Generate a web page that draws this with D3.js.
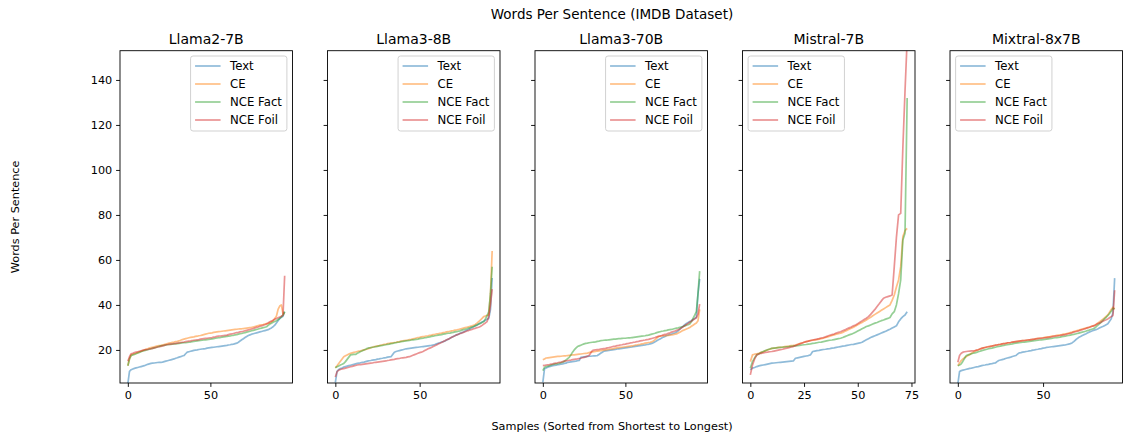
<!DOCTYPE html>
<html>
<head>
<meta charset="utf-8">
<script src="https://cdn.jsdelivr.net/npm/d3@7"></script>
<style>
body { margin: 0; background: #fff; }
text { font-family: "DejaVu Sans", sans-serif; fill: #000; }
</style>
</head>
<body>
<div id="chart"></div>
<script>
var models = ['Llama2-7B', 'Llama3-8B', 'Llama3-70B', 'Mistral-7B', 'Mixtral-8x7B'];
var seriesNames = ['Text', 'CE', 'NCE Fact', 'NCE Foil'];
var colors = ['#1f77b4', '#ff7f0e', '#2ca02c', '#d62728'];
var yTicks = [20, 40, 60, 80, 100, 120, 140];
var xTicksShort = [0, 50];
var xTicksMistral = [0, 25, 50, 75];
var legendOnLeft = [false, false, false, true, true];

// Llama2-7B (96 samples)
var llama2Text = [5,10.5,11.2,11.5,11.8,12,12.2,12.4,12.6,12.8,
	13,13.3,13.6,13.8,14,14.1,14.2,14.3,14.4,14.5,
	14.5,14.6,14.8,15,15.2,15.4,15.6,15.8,16,16.3,
	16.5,16.8,17,17.3,17.5,18.3,19,19.2,19.4,19.6,
	19.8,19.9,20,20.2,20.3,20.4,20.5,20.6,20.8,20.9,
	21,21.1,21.2,21.3,21.4,21.5,21.6,21.7,21.8,21.9,
	22,22.2,22.3,22.5,22.6,22.8,23,23.4,24,24.5,
	25,25.5,26,26.4,26.7,27,27.2,27.4,27.6,27.8,
	28,28.2,28.4,28.6,28.8,29,29.4,29.8,30.3,31,
	32,33,34,34.5,35,37];
var llama2CE = [13,16,17.8,18,18.3,18.5,18.8,19.1,19.4,19.7,
	20,20.3,20.5,20.8,21,21.2,21.4,21.6,21.8,21.9,
	22,22.2,22.4,22.6,22.8,23,23.2,23.4,23.5,23.7,
	23.8,24,24.3,24.6,24.8,25,25.2,25.4,25.6,25.7,
	25.8,26,26.1,26.3,26.4,26.6,26.8,27,27.2,27.4,
	27.5,27.6,27.8,27.9,28,28.1,28.2,28.3,28.4,28.5,
	28.6,28.7,28.8,28.9,29,29.1,29.2,29.3,29.4,29.4,
	29.5,29.6,29.7,29.8,29.9,30,30.2,30.4,30.6,30.8,
	31,31.2,31.3,31.5,31.7,31.8,32,32.5,33,34,
	35,38,39.5,40,36,36.5];
var llama2Fact = [13,16,17.5,17.8,18,18.3,18.6,18.9,19.2,19.5,
	19.7,19.9,20.1,20.3,20.5,20.7,20.9,21.1,21.3,21.6,
	21.8,21.9,22,22.2,22.3,22.4,22.5,22.6,22.7,22.7,
	22.8,22.9,23,23.1,23.2,23.2,23.3,23.4,23.5,23.7,
	23.8,23.9,24,24.1,24.2,24.3,24.4,24.5,24.6,24.7,
	24.8,24.9,25,25.2,25.3,25.4,25.5,25.7,25.8,25.9,
	26,26.1,26.2,26.4,26.5,26.7,26.8,27,27.2,27.3,
	27.5,27.7,27.9,28.1,28.3,28.5,28.7,28.9,29.1,29.3,
	29.5,29.7,29.9,30.1,30.3,30.9,31.5,31.9,32.3,32.6,
	33,33.5,34,34.7,35.5,37];
var llama2Foil = [15,17,18.3,18.5,18.8,19,19.2,19.4,19.6,19.8,
	20,20.1,20.2,20.4,20.5,20.7,20.9,21.1,21.3,21.4,
	21.6,21.8,22,22.2,22.4,22.5,22.6,22.7,22.8,22.9,
	23,23.1,23.3,23.4,23.5,23.7,23.8,23.9,24,24.2,
	24.3,24.4,24.5,24.6,24.8,24.9,25,25.1,25.2,25.3,
	25.4,25.5,25.7,25.8,26,26.1,26.2,26.3,26.4,26.5,
	26.6,26.8,27,27.1,27.3,27.5,27.7,27.8,28,28.1,
	28.3,28.5,28.7,28.9,29.1,29.3,29.5,29.8,30,30.2,
	30.5,30.7,31,31.2,31.5,32,32.5,32.8,33.2,33.6,
	34,34.3,34.6,35,35.5,53];

// Llama3-8B (94 samples)
var llama3Text = [5.5,10.5,11.3,11.7,12,12.4,12.6,12.8,13,13.2,
	13.4,13.6,13.8,14,14.1,14.3,14.5,14.6,14.8,15,
	15.2,15.3,15.5,15.6,15.7,15.9,16,16.2,16.3,16.5,
	16.6,16.8,16.9,17,18,19,19.3,19.5,19.7,19.9,
	20.1,20.3,20.5,20.6,20.7,20.8,20.9,21,21.1,21.2,
	21.3,21.4,21.5,21.6,21.7,21.8,21.9,22,22.2,22.4,
	22.7,23,23.2,23.5,23.7,24,24.4,24.8,25.2,25.6,
	26,26.4,26.7,27,27.4,27.7,28,28.4,28.8,29.1,
	29.5,29.9,30.3,30.7,31.1,31.5,32,32.4,32.8,33.2,
	33.6,34,38,52];
var llama3CE = [12.1,13,14,15,16,17,17.4,17.8,18.2,18.5,
	18.7,18.9,19.1,19.3,19.5,19.6,19.8,20,20.2,20.4,
	20.7,21,21.2,21.5,21.6,21.8,21.9,22.1,22.3,22.5,
	22.6,22.8,22.9,23,23.1,23.3,23.4,23.6,23.7,23.9,
	24,24.2,24.3,24.4,24.6,24.7,24.9,25.1,25.3,25.5,
	25.6,25.8,25.9,26,26.2,26.3,26.5,26.6,26.8,26.9,
	27.1,27.2,27.4,27.5,27.7,27.8,28,28.1,28.3,28.5,
	28.6,28.8,28.9,29.1,29.3,29.5,29.7,29.9,30.1,30.3,
	30.5,30.7,31,31.3,31.9,32.6,33.3,34,34.8,35.1,
	35.4,35.6,45,64];
var llama3Fact = [12.1,12.5,12.9,13.3,13.6,14,14.8,15.8,16.8,17.8,
	17.9,18,18,18.5,18.9,19.3,19.6,20,20.3,20.7,
	20.9,21,21.2,21.3,21.5,21.6,21.8,21.9,22,22.2,
	22.3,22.5,22.6,22.8,22.9,23.1,23.2,23.4,23.5,23.7,
	23.8,23.9,24,24.1,24.2,24.4,24.5,24.6,24.7,24.8,
	25,25.1,25.2,25.4,25.5,25.7,25.8,26,26.1,26.3,
	26.4,26.6,26.7,26.8,27,27.1,27.3,27.4,27.5,27.7,
	27.8,28,28.1,28.3,28.5,28.8,29,29.2,29.4,29.7,
	29.9,30.2,30.4,30.8,31.1,31.5,31.8,32.2,32.6,33.8,
	35.2,37,45,57];
var llama3Foil = [8,10.3,11,11.3,11.5,11.7,11.9,12.1,12.3,12.5,
	12.7,12.9,13.1,13.3,13.4,13.5,13.6,13.7,13.8,13.9,
	14,14.1,14.2,14.4,14.5,14.6,14.7,14.8,14.9,15,
	15.1,15.3,15.4,15.6,15.7,15.8,16,16.1,16.2,16.4,
	16.5,16.6,16.7,16.9,17,17.3,17.6,17.9,18.2,18.5,
	18.8,19,19.3,19.7,20.1,20.5,20.8,21.1,21.5,21.9,
	22.2,22.6,23,23.3,23.7,24.1,24.5,24.8,25.2,25.6,
	26,26.3,26.7,27,27.3,27.5,27.8,28.1,28.4,28.6,
	28.9,29.1,29.4,29.6,29.9,30.1,30.4,30.9,31.5,32,
	32.6,35,40,47];

// Llama3-70B (96 samples)
var llama70Text = [5.6,11.6,12,12.3,12.6,12.8,13,13.1,13.2,13.4,
	13.5,13.7,13.8,14,14.1,14.5,14.6,14.7,14.8,14.9,
	15,15.2,15.3,16.7,16.8,16.9,17,17.1,17.2,17.2,
	17.3,17.4,17.4,17.5,18,18.5,19,19.4,19.6,19.7,
	19.8,19.9,20,20.1,20.2,20.4,20.5,20.6,20.7,20.8,
	20.9,21,21.1,21.2,21.3,21.5,21.6,21.7,21.8,21.9,
	22,22.1,22.2,22.4,22.5,22.7,22.9,23.2,23.6,24.1,
	24.5,24.9,25.3,25.7,26,26.4,26.6,26.9,27.1,27.4,
	27.6,27.9,28.5,29.2,29.9,30.6,31.2,31.8,32.2,32.6,
	33,33.5,34,34.5,45,51.6];
var llama70CE = [15.6,16,16.4,16.5,16.6,16.7,16.8,16.9,17,17.1,
	17.1,17.2,17.3,17.4,17.4,17.5,17.6,17.7,17.8,17.8,
	17.9,18,18.1,18.2,18.3,18.4,18.5,18.6,18.8,19,
	19.1,19.2,19.3,19.5,19.6,19.7,19.8,19.9,20,20.1,
	20.2,20.4,20.5,20.6,20.8,20.9,21,21.1,21.2,21.3,
	21.4,21.5,21.6,21.7,21.8,21.9,22.1,22.2,22.4,22.5,
	22.7,22.8,23,23.1,23.3,23.4,23.6,24,24.6,25.2,
	25.9,26.1,26.2,26.3,26.4,26.4,26.5,26.6,26.7,26.8,
	27,27.1,27.5,27.9,28.3,28.7,29,29.3,29.6,30,
	30.5,31,31.5,32,33,38];
var llama70Fact = [10.8,12.3,12.6,12.8,13,13.3,13.5,13.7,13.8,13.9,
	14.1,14.3,14.5,15,15.5,16.1,16.7,17.8,19,20,
	20.8,21.5,21.8,22.1,22.4,22.7,22.9,23,23.2,23.3,
	23.4,23.5,23.6,23.8,23.9,24.1,24.2,24.3,24.4,24.4,
	24.5,24.6,24.7,24.8,24.8,24.9,25,25,25.1,25.2,
	25.2,25.3,25.4,25.4,25.5,25.6,25.7,25.8,25.9,26,
	26.1,26.2,26.3,26.5,26.6,26.8,27,27.2,27.4,27.7,
	27.9,28.1,28.3,28.4,28.6,28.7,28.9,29,29.1,29.3,
	29.5,29.7,29.8,30,30.2,30.4,30.7,31,31.2,31.5,
	32.5,34,35.5,37,45,55];
var llama70Foil = [13,13.1,13.3,13.4,13.5,13.7,13.8,14,14.1,14.3,
	14.5,14.6,14.8,15,15.1,15.3,15.4,15.5,15.7,15.8,
	15.9,16,16.2,16.3,16.5,16.7,16.9,17.2,17.5,18.6,
	19.7,19.9,20,20.1,20.2,20.4,20.5,20.6,20.7,20.9,
	21,21.2,21.4,21.6,21.7,21.9,22,22.2,22.3,22.5,
	22.6,22.8,22.9,23.1,23.2,23.4,23.5,23.7,23.8,24,
	24.1,24.3,24.4,24.6,24.7,24.9,25.1,25.3,25.5,25.8,
	26,26.2,26.4,26.7,26.9,27.1,27.4,27.6,27.9,28.2,
	28.4,28.7,29,29.3,29.8,30.3,30.8,31.3,31.8,32.3,
	32.8,33.3,33.8,34.3,36,40.4];

// Mistral-7B (74 samples)
var mistralText = [11.1,11.9,12.2,12.6,12.9,13.1,13.3,13.5,13.7,13.9,
	14.1,14.2,14.3,14.4,14.5,14.6,14.7,14.8,14.9,15,
	15.1,16.3,16.5,16.7,16.9,17.1,17.3,17.5,17.8,19.3,
	19.5,19.7,19.8,20,20.2,20.3,20.5,20.6,20.8,20.9,
	21.1,21.3,21.5,21.7,21.8,22,22.2,22.4,22.5,22.7,
	22.9,23.1,23.4,24,24.5,25,25.5,25.9,26.3,26.7,
	27.1,27.5,27.9,28.3,28.8,29.2,29.7,30.2,30.7,32.5,
	33.8,34.8,35.5,37];
var mistralCE = [14.8,17.8,18.1,18.3,18.5,18.9,19.2,19.6,20,20.3,
	20.7,20.8,20.9,21.1,21.2,21.3,21.5,21.6,21.7,21.9,
	22,22.2,22.5,22.8,23.1,23.4,23.7,23.9,24.1,24.3,
	24.5,24.6,24.8,25,25.2,25.5,25.8,26.1,26.4,26.7,
	27,27.2,27.4,27.8,28.3,28.7,29.2,29.6,30.1,30.6,
	31.2,31.7,32.2,32.8,33.3,33.9,34.5,35.2,35.8,36.4,
	37,37.6,38.2,38.8,39.4,40,42,44.4,48,51.1,
	57,70.4,73,74];
var mistralFact = [11.9,14.8,16.5,17.8,18.3,18.8,19.3,19.7,20.1,20.4,
	20.7,20.8,20.9,21,21.1,21.2,21.3,21.4,21.5,21.6,
	21.7,21.8,21.9,22,22.2,22.3,22.4,22.6,22.7,22.9,
	23,23.2,23.4,23.5,23.7,23.9,24.1,24.3,24.4,24.6,
	24.8,25,25.2,25.5,25.9,26.3,26.7,27,27.4,27.9,
	28.4,28.9,29.4,29.9,30.4,30.7,31.1,31.5,31.9,32.2,
	32.6,33,33.3,33.7,34,34.4,36,37,40,45,
	51.1,68.9,71.9,132];
var mistralFoil = [8.9,13.3,16,17.8,18.2,18.5,18.7,18.9,19,19.2,
	19.3,19.5,19.7,19.9,20.1,20.3,20.6,20.8,21,21.3,
	21.5,21.9,22.3,22.7,23,23.4,23.7,23.9,24.2,24.4,
	24.6,24.8,25,25.3,25.5,25.8,26.2,26.5,26.8,27.1,
	27.5,27.8,28.1,28.5,28.9,29.4,29.8,30.2,30.7,31.1,
	31.7,32.3,32.9,33.5,34.1,34.8,35.8,36.9,38,39.3,
	40.5,41.8,43,43.4,43.7,44,44.4,57,70,80,
	80.7,110,135,158];

// Mixtral-8x7B (93 samples)
var mixtralText = [4.9,10.4,10.8,11,11.2,11.4,11.6,11.8,11.9,12.1,
	12.3,12.5,12.6,12.8,13,13.2,13.3,13.5,13.6,13.8,
	13.9,14.1,14.2,14.8,15.3,15.5,15.7,15.9,16.2,16.4,
	16.6,16.8,17.1,17.3,17.5,18.1,18.7,18.8,19,19.1,
	19.3,19.4,19.6,19.7,19.9,20,20.2,20.3,20.5,20.6,
	20.8,20.9,21.1,21.2,21.3,21.4,21.5,21.6,21.7,21.8,
	21.9,22,22.1,22.2,22.4,22.6,22.8,23.1,23.7,24.4,
	25,25.6,26,26.4,26.8,27.1,27.5,27.9,28.2,28.5,
	28.8,29,29.3,29.7,30.1,30.4,30.8,31.2,31.6,32.7,
	33.8,36.7,51.9];
var mixtralCE = [13,14.2,15.3,16,16.6,17.1,17.5,18,18.5,19,
	19.5,19.8,20.1,20.4,20.7,20.9,21.1,21.3,21.5,21.6,
	21.8,21.9,22.1,22.2,22.4,22.5,22.7,22.8,22.9,23.1,
	23.2,23.3,23.5,23.6,23.7,23.8,23.9,24,24.1,24.2,
	24.3,24.4,24.5,24.6,24.7,24.8,25,25.1,25.2,25.3,
	25.4,25.6,25.7,25.8,25.9,26.1,26.2,26.3,26.5,26.6,
	26.7,26.8,27,27.1,27.3,27.5,27.7,27.9,28.2,28.4,
	28.6,28.8,29.1,29.3,29.5,29.7,29.9,30.1,30.4,30.6,
	30.8,31.3,31.9,32.4,33,33.6,34.2,34.9,35.6,36.8,
	38,39,38.2];
var mixtralFact = [13,13.3,13.8,15,16.3,17.5,17.8,18,18.3,18.5,
	18.7,18.9,19.2,19.4,19.7,19.9,20.1,20.3,20.5,20.7,
	20.8,21,21.2,21.4,21.6,21.7,21.9,22,22.2,22.3,
	22.4,22.6,22.7,22.9,23,23.1,23.2,23.3,23.4,23.5,
	23.6,23.7,23.8,23.9,24,24.1,24.2,24.3,24.4,24.5,
	24.6,24.7,24.8,24.9,25,25.1,25.3,25.4,25.5,25.6,
	25.7,25.9,26,26.1,26.3,26.4,26.6,26.8,26.9,27.1,
	27.3,27.5,27.7,27.9,28.1,28.3,28.6,28.8,29.1,29.3,
	29.6,30.2,30.9,31.6,32.3,33,33.8,34.5,35.3,36.2,
	37.2,38.5,38.2];
var mixtralFoil = [14.5,17.5,18.5,19,19.2,19.3,19.4,19.5,19.6,19.6,
	19.7,19.9,20.1,20.4,20.7,20.9,21.1,21.3,21.4,21.6,
	21.7,21.9,22.1,22.2,22.4,22.5,22.7,22.8,22.9,23.1,
	23.2,23.3,23.5,23.6,23.7,23.8,23.9,24,24.1,24.2,
	24.3,24.4,24.5,24.6,24.7,24.8,24.9,25,25.1,25.2,
	25.3,25.4,25.5,25.6,25.7,25.8,26,26.1,26.2,26.3,
	26.4,26.6,26.7,26.8,27,27.2,27.4,27.6,27.9,28.1,
	28.3,28.5,28.8,29,29.3,29.5,29.8,30,30.3,30.6,
	30.8,31.2,31.6,31.9,32.3,32.7,33.1,33.4,33.8,34.3,
	34.8,35.3,46.5];

var panelData = [
	[llama2Text, llama2CE, llama2Fact, llama2Foil],
	[llama3Text, llama3CE, llama3Fact, llama3Foil],
	[llama70Text, llama70CE, llama70Fact, llama70Foil],
	[mistralText, mistralCE, mistralFact, mistralFoil],
	[mixtralText, mixtralCE, mixtralFact, mixtralFoil]
];

var W = 1125, H = 437;
var plotTop = 50.7, plotBottom = 383;
var panelW = 172.5;
var panelLefts = [120, 327.5, 535, 742.5, 950];
var tickLen = 3.9, tickPad = 3.9;

var svg = d3.select('#chart').append('svg')
	.attr('width', W)
	.attr('height', H);

var y = d3.scaleLinear().domain([5.3, 153]).range([plotBottom, plotTop]);

svg.append('text')
	.attr('x', 612).attr('y', 19)
	.attr('text-anchor', 'middle')
	.style('font-size', '13.5px')
	.text('Words Per Sentence (IMDB Dataset)');

svg.append('text')
	.attr('transform', 'translate(19,' + ((plotTop + plotBottom) / 2) + ') rotate(-90)')
	.attr('text-anchor', 'middle')
	.style('font-size', '11.25px')
	.text('Words Per Sentence');

svg.append('text')
	.attr('x', 612).attr('y', 430)
	.attr('text-anchor', 'middle')
	.style('font-size', '11.25px')
	.text('Samples (Sorted from Shortest to Longest)');

panelData.forEach(function(series, p) {
	var left = panelLefts[p];
	var n = series[0].length;
	var x = d3.scaleLinear()
		.domain([-0.05 * (n - 1), 1.05 * (n - 1)])
		.range([left, left + panelW]);

	var g = svg.append('g').attr('class', 'panel' + p);

	svg.append('clipPath').attr('id', 'clip' + p)
		.append('rect')
		.attr('x', left).attr('y', plotTop)
		.attr('width', panelW).attr('height', plotBottom - plotTop);

	var line = d3.line()
		.x(function(d, i) { return x(i); })
		.y(function(d) { return y(d); });

	g.append('g').attr('clip-path', 'url(#clip' + p + ')')
		.selectAll('path')
		.data(series)
		.enter()
		.append('path')
		.attr('d', line)
		.attr('fill', 'none')
		.attr('stroke', function(d, i) { return colors[i]; })
		.attr('stroke-opacity', 0.5)
		.attr('stroke-width', 1.7)
		.attr('stroke-linejoin', 'round');

	// axes
	var xAxis = d3.axisBottom(x)
		.tickValues(p == 3 ? xTicksMistral : xTicksShort)
		.tickFormat(d3.format('d'))
		.tickSize(tickLen).tickPadding(tickPad);
	var xg = g.append('g').attr('transform', 'translate(0,' + plotBottom + ')').call(xAxis);

	var yAxis = d3.axisLeft(y)
		.tickValues(yTicks)
		.tickSize(tickLen).tickPadding(tickPad)
		.tickFormat(p == 0 ? d3.format('d') : function() { return ''; });
	var yg = g.append('g').attr('transform', 'translate(' + left + ',0)').call(yAxis);

	[xg, yg].forEach(function(a) {
		a.select('.domain').remove();
		a.selectAll('line').attr('stroke', '#000').attr('stroke-width', 0.9);
		a.selectAll('text').style('font-size', '11.25px')
			.style('font-family', '"DejaVu Sans", sans-serif').attr('fill', '#000');
	});

	g.append('rect')
		.attr('x', left).attr('y', plotTop)
		.attr('width', panelW).attr('height', plotBottom - plotTop)
		.attr('fill', 'none')
		.attr('stroke', '#000')
		.attr('stroke-width', 0.9);

	g.append('text')
		.attr('x', left + panelW / 2).attr('y', 44)
		.attr('text-anchor', 'middle')
		.style('font-size', '14px')
		.text(models[p]);

	// legend
	var leg = g.append('g');
	var box = leg.append('rect')
		.attr('rx', 2.5).attr('ry', 2.5)
		.attr('fill', '#fff').attr('fill-opacity', 0.8)
		.attr('stroke', '#cccccc').attr('stroke-width', 0.9);
	var rows = leg.selectAll('g.row')
		.data(seriesNames)
		.enter()
		.append('g')
		.attr('class', 'row')
		.attr('transform', function(d, i) { return 'translate(0,' + (i * 18) + ')'; });
	rows.append('line')
		.attr('x1', 4.5).attr('x2', 30)
		.attr('y1', 0).attr('y2', 0)
		.attr('stroke', function(d, i) { return colors[i]; })
		.attr('stroke-opacity', 0.5)
		.attr('stroke-width', 1.7);
	var labels = rows.append('text')
		.attr('x', 39.5).attr('y', 0).attr('dy', '0.36em')
		.style('font-size', '11.7px')
		.text(function(d) { return d; });
	var maxW = 0;
	labels.each(function() { maxW = Math.max(maxW, this.getComputedTextLength()); });
	var boxW = 39.5 + maxW + 5;
	var boxH = 75;
	box.attr('x', 0).attr('y', -10).attr('width', boxW).attr('height', boxH);
	var legX = legendOnLeft[p] ? left + 5.6 : left + panelW - 5.6 - boxW;
	leg.attr('transform', 'translate(' + legX + ',' + (plotTop + 5.3 + 10) + ')');
});
</script>
</body>
</html>
